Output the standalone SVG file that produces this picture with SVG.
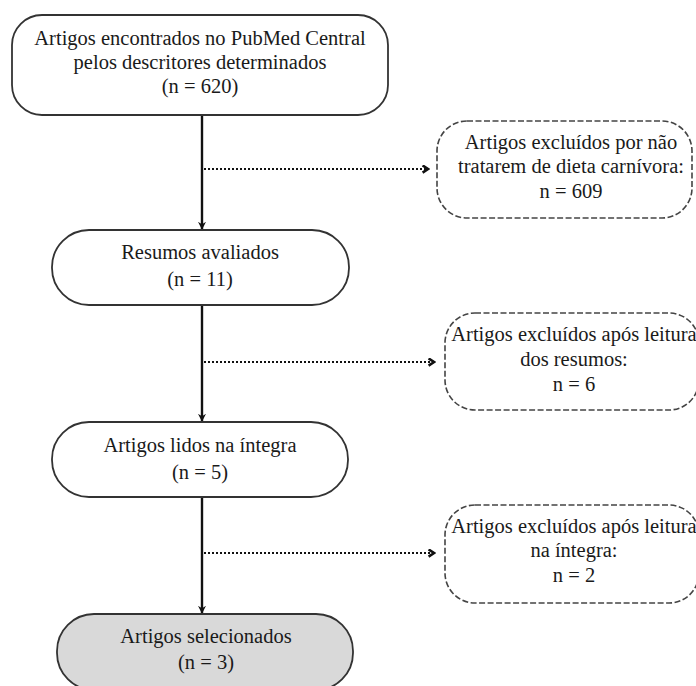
<svg xmlns="http://www.w3.org/2000/svg" width="696" height="686" viewBox="0 0 696 686">
<defs>
<style>
.box{fill:#fff;stroke:#333;stroke-width:1.8}
.sel{fill:#d9d9d9;stroke:#333;stroke-width:1.8}
.ex{fill:#fff;stroke:#444;stroke-width:1.6;stroke-dasharray:6 2.5}
.t{font-family:"Liberation Serif","Times New Roman",serif;font-size:20.5px;fill:#1a1a1a;text-anchor:middle}
.solid{stroke:#111;stroke-width:2.4;fill:none}
.dot{stroke:#111;stroke-width:2.2;fill:none;stroke-dasharray:2 2}
</style>
<marker id="ah" viewBox="0 0 10 10" refX="9" refY="5" markerWidth="8" markerHeight="8" markerUnits="userSpaceOnUse" orient="auto">
<path d="M0,0 L10,5 L0,10 L3,5 Z" fill="#111"/>
</marker>
<marker id="ch" viewBox="0 0 10 10" refX="8" refY="5" markerWidth="9" markerHeight="9" markerUnits="userSpaceOnUse" orient="auto">
<path d="M2,1 L8,5 L2,9" fill="none" stroke="#111" stroke-width="2.8"/>
</marker>
</defs>
<rect width="696" height="686" fill="#fff"/>
<g id="connectors">
<line class="solid" x1="202" y1="115" x2="202" y2="229" marker-end="url(#ah)"/>
<line class="solid" x1="202" y1="305" x2="202" y2="421" marker-end="url(#ah)"/>
<line class="solid" x1="202" y1="497" x2="202" y2="613" marker-end="url(#ah)"/>
<line class="dot" x1="204" y1="169" x2="428" y2="169" marker-end="url(#ch)"/>
<line class="dot" x1="204" y1="362" x2="434" y2="362" marker-end="url(#ch)"/>
<line class="dot" x1="204" y1="553" x2="434" y2="553" marker-end="url(#ch)"/>
</g>
<g id="n1">
<rect class="box" x="12" y="15" width="376" height="100" rx="30" ry="30"/>
<text class="t" x="200" y="45">Artigos encontrados no PubMed Central</text>
<text class="t" x="200" y="69">pelos descritores determinados</text>
<text class="t" x="200" y="93">(n = 620)</text>
</g>
<g id="n2">
<rect class="box" x="52" y="230" width="297" height="75" rx="37" ry="37"/>
<text class="t" x="200" y="259">Resumos avaliados</text>
<text class="t" x="200" y="286">(n = 11)</text>
</g>
<g id="n3">
<rect class="box" x="52" y="422" width="296" height="75" rx="37" ry="37"/>
<text class="t" x="200" y="452">Artigos lidos na íntegra</text>
<text class="t" x="200" y="479">(n = 5)</text>
</g>
<g id="n4">
<rect class="sel" x="57" y="614" width="296" height="76" rx="37" ry="37"/>
<text class="t" x="206" y="643">Artigos selecionados</text>
<text class="t" x="206" y="669">(n = 3)</text>
</g>
<g id="e1">
<rect class="ex" x="437" y="121" width="255" height="97" rx="30" ry="30"/>
<text class="t" x="571" y="149">Artigos excluídos por não</text>
<text class="t" x="571" y="173">tratarem de dieta carnívora:</text>
<text class="t" x="571" y="198">n = 609</text>
</g>
<g id="e2">
<rect class="ex" x="445" y="313" width="254" height="97" rx="30" ry="30"/>
<text class="t" x="574" y="341">Artigos excluídos após leitura</text>
<text class="t" x="574" y="366">dos resumos:</text>
<text class="t" x="574" y="391">n = 6</text>
</g>
<g id="e3">
<rect class="ex" x="445" y="505" width="254" height="98" rx="30" ry="30"/>
<text class="t" x="574" y="533">Artigos excluídos após leitura</text>
<text class="t" x="574" y="557">na íntegra:</text>
<text class="t" x="574" y="582">n = 2</text>
</g>
</svg>
